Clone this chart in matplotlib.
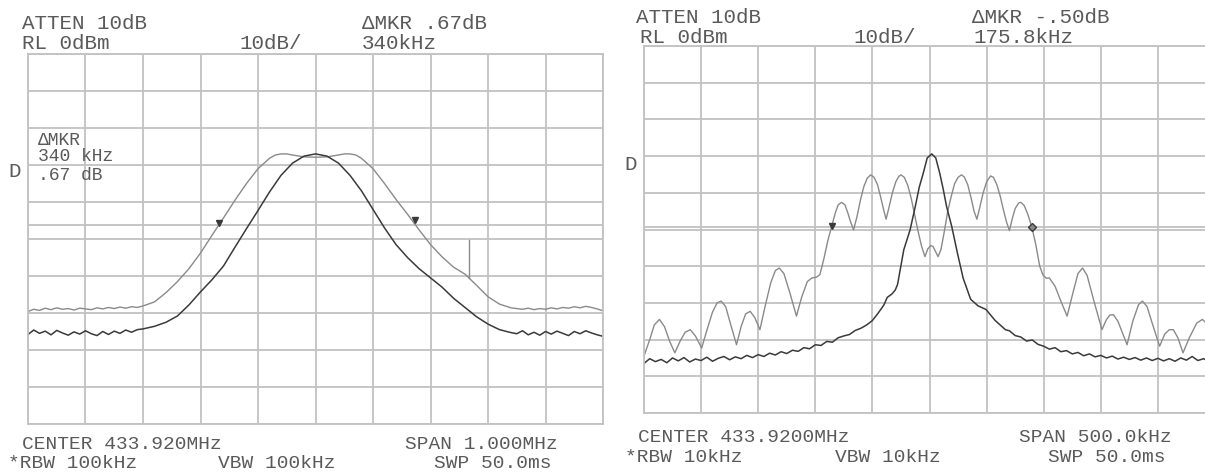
import numpy as np
import matplotlib
matplotlib.use("Agg")
import matplotlib.pyplot as plt

W, H = 1205, 472

# ---- left screen: span 1 MHz, 100 kHz/div, offsets in kHz from 433.920 MHz ----
left_wide_khz = [-500, -490, -480, -470, -460, -450, -440, -430, -420, -410, -400,
                 -390, -380, -370, -360, -350, -340, -330, -320, -310, -300,
                 -280, -260, -240, -220, -200, -180, -160, -140, -120, -100,
                 -80, -70, -60, -50, -40, -20, 0, 20, 40, 50, 60, 70, 80,
                 100, 120, 140, 160, 180, 200, 220, 240, 260, 280, 300, 320, 340,
                 360, 370, 380, 390, 400, 410, 420, 430, 440, 450, 460, 470, 480, 490, 500]
left_wide_db = [-69.6, -69.0, -69.3, -68.7, -69.1, -68.6, -69.0, -68.8, -69.2, -68.7, -68.9,
                -69.1, -68.6, -68.9, -68.5, -68.8, -68.4, -68.7, -68.3, -68.5, -68.1,
                -67.0, -64.5, -61.5, -58.0, -53.8, -49.0, -44.3, -39.5, -35.0, -31.0,
                -28.2, -27.3, -27.0, -27.0, -27.3, -27.8, -27.9, -27.8, -27.3, -27.0, -27.0, -27.3, -28.2,
                -31.0, -35.0, -39.3, -43.3, -47.5, -51.5, -54.8, -57.6, -59.5, -62.5, -65.6, -67.6, -68.6,
                -69.0, -68.7, -69.1, -68.8, -69.0, -68.6, -68.9, -68.5, -68.7, -68.3, -68.6, -68.2, -68.5, -68.9, -69.4]

left_narrow_khz = [-500, -490, -480, -470, -460, -450, -440, -430, -420, -410, -400,
                   -390, -380, -370, -360, -350, -340, -330, -320, -310, -300,
                   -280, -260, -240, -220, -200, -180, -160, -140, -120, -100,
                   -80, -60, -40, -20, 0, 20, 40, 60, 80, 100, 120, 140, 160, 180,
                   200, 220, 240, 260, 280, 300, 320, 340,
                   350, 360, 370, 380, 390, 400, 410, 420, 430, 440, 450, 460, 470, 480, 490, 500]
left_narrow_db = [-75.8, -74.6, -75.5, -74.9, -75.9, -74.7, -75.4, -76.0, -75.1, -75.7, -74.8,
                  -75.6, -76.1, -75.0, -75.8, -74.9, -75.5, -74.6, -75.2, -74.5, -74.3,
                  -73.6, -72.5, -70.8, -67.8, -64.3, -61.0, -57.3, -52.2, -47.2, -42.3,
                  -37.3, -32.8, -29.5, -27.6, -27.0, -27.6, -29.5, -32.8, -37.0, -42.0, -47.0, -51.5, -55.0, -58.0,
                  -60.5, -63.0, -66.0, -68.5, -71.0, -73.0, -74.5, -75.3,
                  -75.6, -74.8, -75.9, -75.2, -76.0, -75.0, -75.7, -74.9, -75.5, -76.1, -75.0, -75.6, -74.8, -75.4, -75.9, -76.3]

left_markers_khz = [-167, 173]
left_markers_db = [-45.6, -44.9]
left_spike_khz = 267
left_spike_db = [-50.3, -60.5]
left_thresh_db = -46.2

# ---- right screen: span 500 kHz, 50 kHz/div ----
right_wide_khz = [-250, -245, -241, -236.5, -232, -227.5, -223, -218.5, -214, -209.5, -205,
                  -199.5, -195, -190, -186, -182.5, -178.5, -174, -169, -165, -161, -157, -153,
                  -148.5, -144, -139, -135, -131.5, -127.5, -122.5, -116.5, -112, -107, -103,
                  -99, -96, -92.5, -89, -85.5, -82.5, -80, -77, -74, -71.5, -69, -66.5,
                  -63.5, -60.5, -57.5, -54.5, -51.5, -48.5, -45.5, -42.5, -40, -38,
                  -35.5, -32.5, -29.5, -27, -25, -22, -19, -16, -13, -10, -7, -4, -1.5, 1, 3, 5, 7.5,
                  10, 13, 16, 19, 22, 25, 28, 30.5, 33.5, 36.5, 39, 41.5,
                  44, 47, 50, 53.5, 56, 59, 62, 65, 67.5, 70,
                  72.5, 75, 78, 80, 83, 86, 89.5, 93, 96.5, 99.5, 102.5, 105,
                  110, 115, 120.5, 125, 130,
                  134, 138, 144, 151, 155, 158, 161, 165, 173, 178, 183, 186.5, 190.5, 196,
                  201.5, 206, 210, 213.5, 217.5, 222, 227.5, 234, 239, 244, 250]
right_wide_db = [-84.5, -80.0, -76.0, -74.5, -76.5, -80.5, -83.6, -80.5, -78.0, -77.3, -79.0,
                 -82.3, -77.5, -72.5, -70.0, -69.5, -71.0, -76.0, -81.4, -76.5, -73.0, -72.3, -74.0,
                 -77.3, -71.0, -64.5, -61.2, -60.5, -62.0, -67.0, -73.6, -68.5, -64.2, -63.2,
                 -63.0, -62.3, -58.0, -53.0, -49.0, -45.5, -43.3, -42.6, -43.3, -45.5, -48.0, -50.1,
                 -46.5, -42.0, -38.3, -36.0, -35.1, -35.8, -37.8, -41.5, -44.8, -47.2,
                 -44.0, -40.0, -37.0, -35.6, -35.1, -35.8, -38.0, -41.5, -46.0, -50.5, -54.5, -57.4, -55.3, -54.4, -54.6, -55.8, -57.4,
                 -55.5, -50.5, -45.0, -41.0, -37.5, -35.8, -35.1, -35.7, -37.8, -41.5, -45.0, -47.2,
                 -44.0, -40.0, -37.0, -35.4, -35.8, -37.8, -41.0, -45.0, -48.0, -50.3,
                 -47.0, -44.3, -42.8, -42.6, -43.5, -45.8, -49.2, -54.0, -60.0, -62.5, -63.3, -63.2,
                 -65.5, -69.5, -73.6, -68.0, -62.0,
                 -60.5, -62.5, -69.5, -77.3, -74.5, -73.3, -73.2, -75.0, -81.4, -75.0, -70.5, -69.5, -71.0, -76.5,
                 -81.8, -78.5, -77.3, -77.3, -79.5, -83.6, -79.5, -75.5, -74.5, -76.0, -80.0]

right_narrow_khz = [-250, -245, -240, -235, -230, -225, -220, -215, -210, -205, -200,
                    -195, -190, -185, -180, -175, -170, -165, -160, -155, -150,
                    -145, -140, -135, -130, -125, -120, -115, -110, -105, -100,
                    -95, -90, -85, -80, -75, -70, -65, -60, -55, -50, -45, -40,
                    -37, -33, -30, -28, -27, -22.5, -17, -12.5, -9, -5.5, -2, 2,
                    5.5, 9, 12, 15, 19.5, 24.5, 29.5, 36, 42.5, 49.5, 57.5, 66.5,
                    70, 75, 80, 85, 90, 95, 100, 105, 110, 115, 120, 125, 130, 135,
                    140, 145, 150, 155, 160, 165, 170, 175, 180, 185, 190, 195, 200,
                    205, 210, 215, 220, 225, 230, 235, 240, 245, 250]
right_narrow_db = [-86.5, -85.2, -86.0, -85.4, -86.3, -85.0, -85.8, -84.9, -86.1, -85.3, -85.7,
                   -84.8, -85.9, -85.1, -84.6, -85.5, -84.7, -85.2, -84.3, -84.9, -84.1,
                   -84.6, -83.7, -84.2, -83.3, -83.8, -82.9, -83.2, -82.2, -82.5, -81.4,
                   -81.6, -80.5, -80.7, -79.5, -79.0, -78.6, -77.5, -76.9, -76.0, -74.8, -72.8, -70.6,
                   -68.5, -67.6, -66.5, -65.0, -63.3, -55.5, -50.1, -43.8, -38.5, -34.7, -30.5, -29.4,
                   -30.5, -34.7, -39.0, -43.8, -49.2, -56.5, -63.3, -69.0, -70.8, -71.8, -74.8, -77.3,
                   -77.6, -78.9, -79.3, -80.4, -80.1, -81.3, -81.8, -82.6, -82.2, -83.3, -83.0, -83.9, -83.5, -84.4,
                   -83.9, -84.7, -84.3, -85.0, -84.5, -85.3, -84.8, -85.4, -84.9, -85.6, -85.0, -85.7, -85.1,
                   -85.8, -85.2, -85.9, -85.0, -85.6, -84.6, -85.7, -85.2, -86.0, -85.5]

right_markers_khz = [-85.5, 89.5]
right_markers_db = [-49.0, -49.2]
right_thresh_db = -49.2

GRID = "#c2c2c2"
LIGHT = "#8a8a8a"
DARK = "#3a3a3a"
TXT = "#5a5a5a"
FONT = ["Liberation Mono", "DejaVu Sans Mono"]
FS = 15
FS_BOTTOM = 14

fig = plt.figure(figsize=(W / 100, H / 100), dpi=100)


def screen(rect, half_span, step):
    ax = fig.add_axes(rect)
    ax.set_xlim(-half_span, half_span)
    ax.set_ylim(-100, 0)
    ax.set_xticks(np.arange(-half_span, half_span + step / 2, step))
    ax.set_yticks(np.arange(-100, 1, 10))
    ax.grid(True, color=GRID, lw=1.3)
    ax.tick_params(length=0, labelbottom=False, labelleft=False)
    for s in ax.spines.values():
        s.set_color(GRID)
        s.set_linewidth(1.3)
    return ax


axl = screen([28 / W, 1 - 424 / H, 575 / W, 370 / H], 500, 100)
axl.axhline(left_thresh_db, color=GRID, lw=1.3)
axl.plot(left_wide_khz, left_wide_db, color=LIGHT, lw=1.0)
axl.plot(left_narrow_khz, left_narrow_db, color=DARK, lw=1.1)
axl.plot([left_spike_khz, left_spike_khz], left_spike_db, color=LIGHT, lw=1.0)
axl.plot(left_markers_khz, left_markers_db, 'v', color=DARK, ms=5)

axr = screen([644 / W, 1 - 413 / H, 571 / W, 367 / H], 250, 50)
axr.axhline(right_thresh_db, color=GRID, lw=1.3)
axr.plot(right_wide_khz, right_wide_db, color=LIGHT, lw=1.0)
axr.plot(right_narrow_khz, right_narrow_db, color=DARK, lw=1.1)
axr.plot(right_markers_khz[0], right_markers_db[0], 'v', color=DARK, ms=5)
axr.plot(right_markers_khz[1], right_markers_db[1], 'D', mfc="#888888", mec=DARK, ms=4.5)


def put(x, y, s, size=FS):
    fig.text(x / W, 1 - y / H, s, ha='left', va='baseline',
             fontsize=size, color=TXT, family=FONT)


# left screen annotations
put(22, 29, "ATTEN 10dB")
put(22, 49, "RL 0dBm")
put(239, 49, "10dB/")
put(362, 29, "ΔMKR .67dB")
put(362, 49, "340kHz")
put(38, 145, "ΔMKR", 13)
put(38, 161, "340 kHz", 13)
put(38, 180, ".67 dB", 13)
put(8, 177, "D")
put(22, 449, "CENTER 433.920MHz", FS_BOTTOM)
put(405, 449, "SPAN 1.000MHz", FS_BOTTOM)
put(8, 468, "*RBW 100kHz", FS_BOTTOM)
put(218, 468, "VBW 100kHz", FS_BOTTOM)
put(434, 468, "SWP 50.0ms", FS_BOTTOM)

# right screen annotations
put(636, 23, "ATTEN 10dB")
put(640, 43, "RL 0dBm")
put(853, 43, "10dB/")
put(972, 23, "ΔMKR -.50dB")
put(973, 43, "175.8kHz")
put(624, 170, "D")
put(638, 442, "CENTER 433.9200MHz", FS_BOTTOM)
put(1019, 442, "SPAN 500.0kHz", FS_BOTTOM)
put(625, 462, "*RBW 10kHz", FS_BOTTOM)
put(835, 462, "VBW 10kHz", FS_BOTTOM)
put(1048, 462, "SWP 50.0ms", FS_BOTTOM)

fig.savefig("out.png", dpi=100)
